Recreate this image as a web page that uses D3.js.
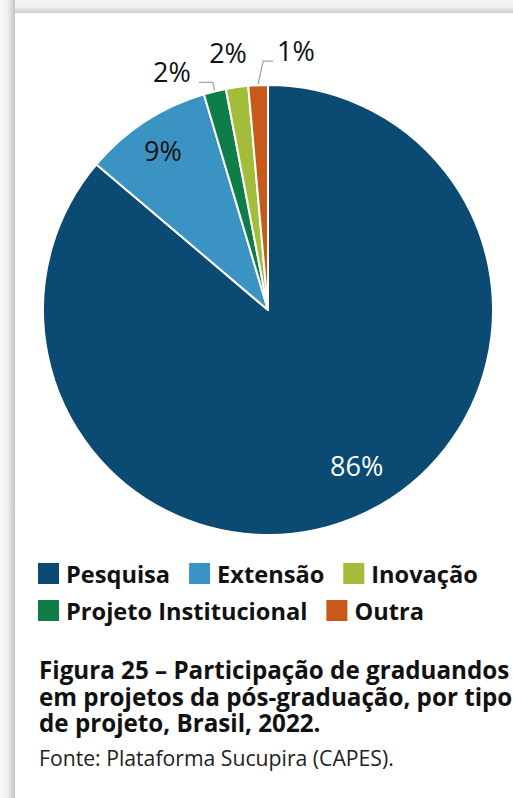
<!DOCTYPE html>
<html><head><meta charset="utf-8">
<script src="https://cdn.jsdelivr.net/npm/d3@7"></script>
<style>
html,body{margin:0;padding:0;}
body{width:513px;height:798px;overflow:hidden;background:#ffffff;position:relative;font-family:"Open Sans",sans-serif;}
#shadowtop{position:absolute;left:0;top:0;width:513px;height:14px;background:linear-gradient(#f6f6f6,#f0f0f0 50%,#c9c9c9);}
#shadowleft{position:absolute;left:0;top:0;width:15px;height:798px;background:linear-gradient(90deg,#fbfbfb,#f0f0f0 50%,#c4c4c4);}
#card{position:absolute;left:15px;top:13px;width:498px;height:785px;background:#fff;}
svg{position:absolute;left:0;top:0;}
</style></head>
<body>
<div id="shadowtop"></div><div id="shadowleft"></div><div id="card"></div>
<svg id="chart" width="513" height="798"></svg>
<script>
const categories = ["Pesquisa","Extensão","Projeto Institucional","Inovação","Outra"];
const values = [86.2, 9.2, 1.6, 1.6, 1.4];
const valueLabels = ["86%","9%","2%","2%","1%"];
const colors = ["#0b4a72","#3a93c3","#0e7d47","#a3bd3b","#c75a1a"];
const legendOrder = [["Pesquisa","Extensão","Inovação"],["Projeto Institucional","Outra"]];
const titleLines = ["Figura 25 – Participação de graduandos","em projetos da pós-graduação, por tipo","de projeto, Brasil, 2022."];
const sourceText = "Fonte: Plataforma Sucupira (CAPES).";

const svg = d3.select("#chart");
const cx = 268, cy = 310, R = 225;
const g = svg.append("g").attr("transform",`translate(${cx},${cy})`);
const pie = d3.pie().sort(null).value(d=>d.v);
const data = categories.map((c,i)=>({c,v:values[i],lab:valueLabels[i],col:colors[i]}));
const arcs = pie(data);
const arc = d3.arc().innerRadius(0).outerRadius(R);
g.selectAll("path").data(arcs).join("path")
  .attr("d",arc).attr("fill",d=>d.data.col)
  .attr("stroke","#fff").attr("stroke-width",2).attr("stroke-linejoin","round");

// inside labels
const inner = {"Pesquisa":{r:0.80,off:[13,-8],col:"#fff"},"Extensão":{r:0.83,off:[-3,-3],col:"#111"}};
const outside = {
  "Projeto Institucional":{line:true, e:[-2,-9], h:-14, t:[-8,0], anchor:"end"},
  "Inovação":{line:false, t:[-9,-24], anchor:"middle"},
  "Outra":{line:true, e:[5,-24], h:10, t:[4,0], anchor:"start"}
};
const labelSize = 27;
arcs.forEach(a=>{
  const mid=(a.startAngle+a.endAngle)/2;
  const name=a.data.c;
  if(inner[name]){
    const r=R*inner[name].r, o=inner[name].off;
    g.append("text").attr("x",Math.sin(mid)*r+o[0]).attr("y",-Math.cos(mid)*r+o[1])
      .attr("text-anchor","middle").attr("dominant-baseline","central")
      .attr("font-size",labelSize).attr("fill",inner[name].col).text(a.data.lab);
  } else {
    const o=outside[name];
    const px=Math.sin(mid)*R, py=-Math.cos(mid)*R;
    if(o.line){
      const ex=px+o.e[0], ey=py+o.e[1], hx=ex+o.h;
      g.append("path").attr("d",`M${px},${py-1}L${ex},${ey}L${hx},${ey}`)
        .attr("fill","none").attr("stroke","#a6a6a6").attr("stroke-width",1.3);
      g.append("text").attr("x",hx+o.t[0]).attr("y",ey+o.t[1]).attr("text-anchor",o.anchor)
        .attr("font-size",labelSize).attr("fill","#111").text(a.data.lab);
    } else {
      g.append("text").attr("x",px+o.t[0]).attr("y",py+o.t[1]).attr("text-anchor",o.anchor)
        .attr("font-size",labelSize).attr("fill","#111").text(a.data.lab);
    }
  }
});

// legend
const colorOf = d3.scaleOrdinal().domain(categories).range(colors);
const legX = 38, legY0 = 563, rowH = 37, sw = 21, gap = 19;
legendOrder.forEach((row,ri)=>{
  let x = legX;
  row.forEach(name=>{
    const y = legY0 + ri*rowH;
    svg.append("rect").attr("x",x).attr("y",y).attr("width",sw).attr("height",sw).attr("fill",colorOf(name));
    const t = svg.append("text").attr("x",x+sw+7).attr("y",y+sw-1)
      .attr("font-size",23.6).attr("font-weight",700).attr("fill","#111").text(name);
    x += sw + 7 + t.node().getComputedTextLength() + gap;
  });
});

// title
const title = svg.append("text").attr("x",39).attr("y",679).attr("font-size",24.2).attr("font-weight",700).attr("fill","#111");
titleLines.forEach((l,i)=>title.append("tspan").attr("x",39).attr("dy",i?26.5:0).text(l));
svg.append("text").attr("x",39).attr("y",766).attr("font-size",21.2).attr("fill","#222").text(sourceText);
</script>
</body></html>
